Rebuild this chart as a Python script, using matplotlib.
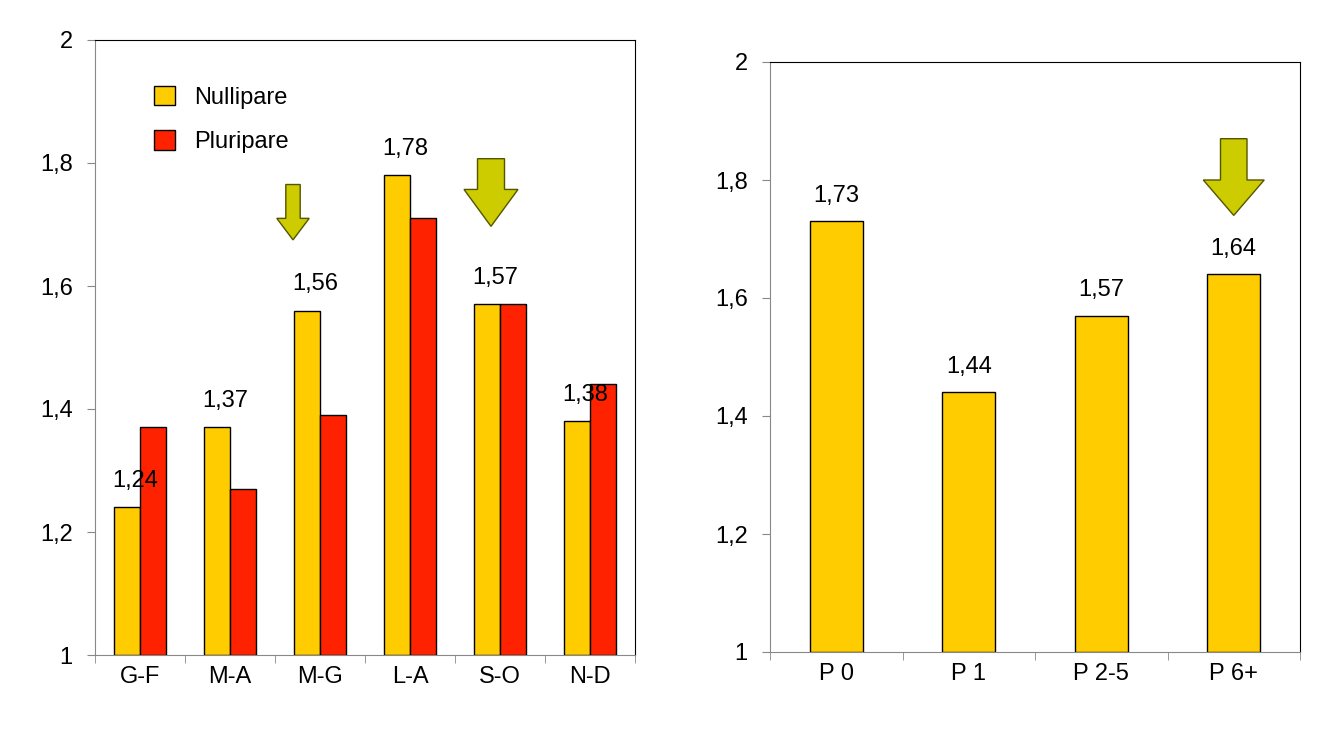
import matplotlib.pyplot as plt
from matplotlib.patches import FancyArrow

groups = ['G-F', 'M-A', 'M-G', 'L-A', 'S-O', 'N-D']
nullipare = [1.24, 1.37, 1.56, 1.78, 1.57, 1.38]
pluripare = [1.37, 1.27, 1.39, 1.71, 1.57, 1.44]
parite = ['P 0', 'P 1', 'P 2-5', 'P 6+']
parite_vals = [1.73, 1.44, 1.57, 1.64]

yellow = '#FFCC00'
red = '#FF2200'
arrow_col = '#CCCC00'

plt.rcParams['font.family'] = 'Liberation Sans'
plt.rcParams['font.size'] = 17

fig = plt.figure(figsize=(13.22, 7.43), dpi=100)
ax1 = fig.add_axes([95/1322, 1-655/743, 540/1322, 615/743])
ax2 = fig.add_axes([770/1322, 1-652/743, 530/1322, 590/743])

def fmt(v):
    return ('%.2f' % v).replace('.', ',')

def style(ax, n):
    ax.set_ylim(1, 2)
    ax.set_xlim(0, n)
    ax.set_yticks([1, 1.2, 1.4, 1.6, 1.8, 2])
    ax.set_yticklabels(['1', '1,2', '1,4', '1,6', '1,8', '2'])
    ax.set_xticks([i + 0.5 for i in range(n)])
    ax.set_xticks(range(n + 1), minor=True)
    ax.tick_params(axis='x', which='major', length=0, pad=8)
    ax.tick_params(axis='x', which='minor', length=6, color='#888888')
    ax.tick_params(axis='y', length=6, color='#888888', pad=10)
    ax.spines['left'].set_color('#888888')
    ax.spines['bottom'].set_color('#888888')

# left chart
w = 0.29
x = list(range(len(groups)))
ax1.bar([i + 0.5 - w/2 for i in x], [v - 1 for v in nullipare], w, bottom=1,
        color=yellow, edgecolor='black', linewidth=1, label='Nullipare')
ax1.bar([i + 0.5 + w/2 for i in x], [v - 1 for v in pluripare], w, bottom=1,
        color=red, edgecolor='black', linewidth=1, label='Pluripare')
for i, v in enumerate(nullipare):
    ax1.text(i + 0.45, v + 0.025, fmt(v), ha='center', va='bottom')
style(ax1, len(groups))
ax1.set_xticklabels(groups)
ax1.legend(loc='upper left', bbox_to_anchor=(0.07, 0.96), frameon=False,
           handlelength=0.9, handleheight=0.9, labelspacing=0.9)

ax1.add_patch(FancyArrow(2.2, 1.765, 0, -0.09, width=0.16, head_width=0.36,
                         head_length=0.035, length_includes_head=True,
                         facecolor=arrow_col, edgecolor='#555500', linewidth=1))
ax1.add_patch(FancyArrow(4.4, 1.807, 0, -0.11, width=0.3, head_width=0.6,
                         head_length=0.06, length_includes_head=True,
                         facecolor=arrow_col, edgecolor='#555500', linewidth=1))

# right chart
x2 = list(range(len(parite)))
ax2.bar([i + 0.5 for i in x2], [v - 1 for v in parite_vals], 0.4, bottom=1,
        color=yellow, edgecolor='black', linewidth=1)
for i, v in enumerate(parite_vals):
    ax2.text(i + 0.5, v + 0.025, fmt(v), ha='center', va='bottom')
style(ax2, len(parite))
ax2.set_xticklabels(parite)
ax2.add_patch(FancyArrow(3.5, 1.87, 0, -0.13, width=0.2, head_width=0.46,
                         head_length=0.06, length_includes_head=True,
                         facecolor=arrow_col, edgecolor='#555500', linewidth=1))

fig.savefig('out.png', dpi=100)
